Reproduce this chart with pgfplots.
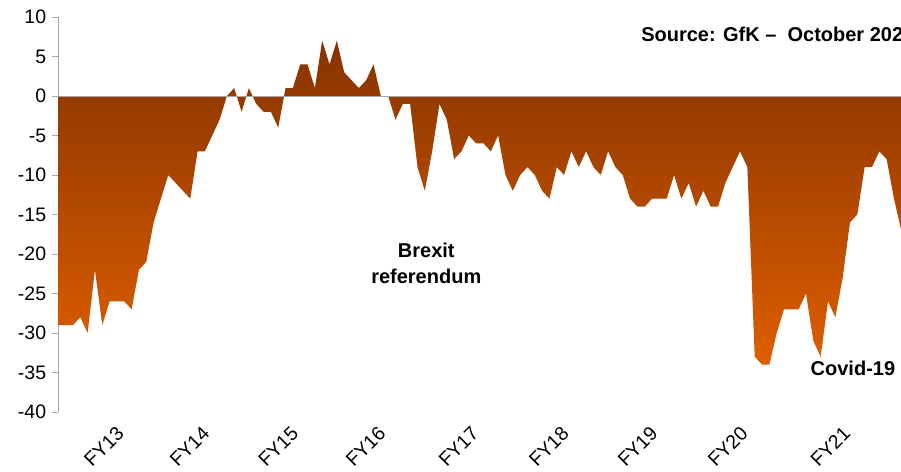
\documentclass[border=0pt]{standalone}
\usepackage{pgfplots}
\pgfplotsset{compat=1.18}
\usepackage{fontspec}
\setmainfont{Liberation Sans}
\definecolor{axgray}{RGB}{166,166,166}
\definecolor{topc}{RGB}{134,51,0}
\definecolor{botc}{RGB}{222,94,0}
\pgfplotstableread{
idx val
0 -29
1 -29
2 -29
3 -28
4 -30
5 -22
6 -29
7 -26
8 -26
9 -26
10 -27
11 -22
12 -21
13 -16
14 -13
15 -10
16 -11
17 -12
18 -13
19 -7
20 -7
21 -5
22 -3
23 0
24 1
25 -2
26 1
27 -1
28 -2
29 -2
30 -4
31 1
32 1
33 4
34 4
35 1
36 7
37 4
38 7
39 3
40 2
41 1
42 2
43 4
44 0
45 0
46 -3
47 -1
48 -1
49 -9
50 -12
51 -7
52 -1
53 -3
54 -8
55 -7
56 -5
57 -6
58 -6
59 -7
60 -5
61 -10
62 -12
63 -10
64 -9
65 -10
66 -12
67 -13
68 -9
69 -10
70 -7
71 -9
72 -7
73 -9
74 -10
75 -7
76 -9
77 -10
78 -13
79 -14
80 -14
81 -13
82 -13
83 -13
84 -10
85 -13
86 -11
87 -14
88 -12
89 -14
90 -14
91 -11
92 -9
93 -7
94 -9
95 -33
96 -34
97 -34
98 -30
99 -27
100 -27
101 -27
102 -25
103 -31
104 -33
105 -26
106 -28
107 -23
108 -16
109 -15
110 -9
111 -9
112 -7
113 -8
114 -13
115 -17
}\gfkdata
\begin{document}
\begin{tikzpicture}
\begin{axis}[
  at={(0,0)}, anchor=south west,
  scale only axis, width=843bp, height=395bp,
  xmin=0, xmax=115, ymin=-40, ymax=10,
  clip=false,
  axis y line*=left, axis x line*=bottom,
  x axis line style={draw=none},
  y axis line style={draw=axgray, line width=1bp},
  ytick={-40,-35,-30,-25,-20,-15,-10,-5,0,5,10},
  yticklabels={-40,-35,-30,-25,-20,-15,-10,-5,0,5,10},
  ytick style={draw=axgray, line width=1bp},
  tick align=outside, major tick length=6bp,
  xtick={7.8,19.5,31.6,43.5,56.2,68.5,80.6,92.9,106.9},
  xticklabels={FY13,FY14,FY15,FY16,FY17,FY18,FY19,FY20,FY21},
  xtick style={draw=none},
  xticklabel shift=7bp,
  x tick label style={rotate=45, anchor=north east, inner sep=0pt, font=\fontsize{19.5bp}{23bp}\selectfont},
  y tick label style={anchor=east, inner sep=0pt, font=\fontsize{19.5bp}{23bp}\selectfont},
  yticklabel shift=6bp,
]
\addplot[draw=none, top color=topc, bottom color=botc] table[x=idx, y=val] {\gfkdata} \closedcycle;
\addplot[axgray, line width=1bp, forget plot] coordinates {(0,0) (115,0)};
\node[anchor=base west, inner sep=0pt, font=\bfseries\fontsize{20bp}{24bp}\selectfont] at (axis cs:79.5,6.96) {Source: GfK --\ \ October 2021};
\node[anchor=base, inner sep=0pt, font=\bfseries\fontsize{20bp}{24bp}\selectfont] at (axis cs:50.2,-20.4) {Brexit};
\node[anchor=base, inner sep=0pt, font=\bfseries\fontsize{20bp}{24bp}\selectfont] at (axis cs:50.2,-23.7) {referendum};
\node[anchor=base, inner sep=0pt, font=\bfseries\fontsize{20bp}{24bp}\selectfont] at (axis cs:108.4,-35.4) {Covid-19};
\end{axis}
\pgfresetboundingbox
\path[use as bounding box] (-58.3bp,-60bp) rectangle (842.7bp,412bp);
\end{tikzpicture}
\end{document}
